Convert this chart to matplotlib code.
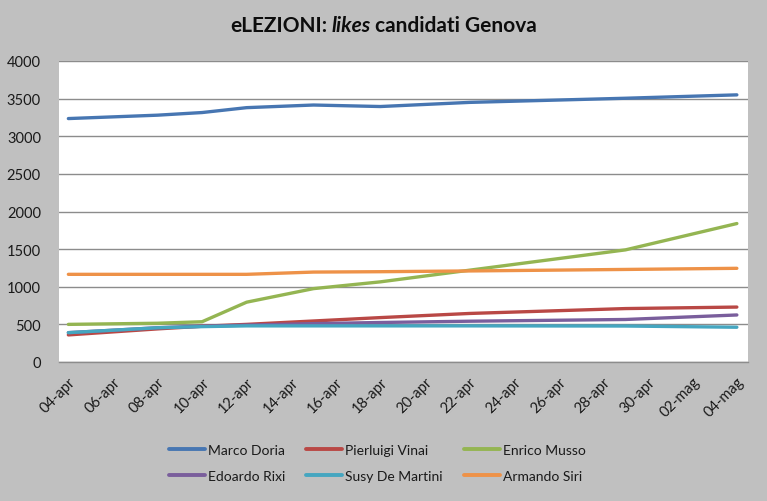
import matplotlib
matplotlib.use("Agg")
import matplotlib.pyplot as plt
import matplotlib.dates as mdates
from matplotlib import font_manager as fm
import numpy as np

# ---------------- data ----------------
dates = ["2012-04-04", "2012-04-08", "2012-04-10", "2012-04-12", "2012-04-15",
         "2012-04-18", "2012-04-22", "2012-04-29", "2012-05-04"]
names = ["Marco Doria", "Pierluigi Vinai", "Enrico Musso",
         "Edoardo Rixi", "Susy De Martini", "Armando Siri"]
doria = [3235, 3280, 3315, 3380, 3415, 3395, 3450, 3505, 3550]
vinai = [360, 440, 475, 500, 545, 590, 645, 710, 730]
musso = [500, 515, 535, 795, 975, 1065, 1220, 1490, 1840]
rixi = [390, 455, 475, 490, 510, 525, 542, 565, 625]
demartini = [390, 455, 470, 480, 480, 480, 480, 478, 462]
siri = [1165, 1165, 1165, 1165, 1195, 1200, 1210, 1230, 1245]
series = [doria, vinai, musso, rixi, demartini, siri]
colors = ["#4776b2", "#b94845", "#94b552", "#7a5e9c", "#45a6c0", "#ee9248"]
tick_labels = ["04-apr", "06-apr", "08-apr", "10-apr", "12-apr", "14-apr", "16-apr",
               "18-apr", "20-apr", "22-apr", "24-apr", "26-apr", "28-apr", "30-apr",
               "02-mag", "04-mag"]
yticks = [0, 500, 1000, 1500, 2000, 2500, 3000, 3500, 4000]

# ---------------- fonts ----------------
avail = {f.name for f in fm.fontManager.ttflist}
fam = "Lato" if "Lato" in avail else "DejaVu Sans"
plt.rcParams["font.family"] = [fam, "DejaVu Sans"]

bg = "#c0c0c0"
fig = plt.figure(figsize=(7.67, 5.02), dpi=100, facecolor=bg)
W, H = 767, 502
ax = fig.add_axes([59 / W, 1 - 363 / H, (748 - 59) / W, (363 - 62) / H])
ax.set_facecolor("white")

x = mdates.date2num(np.array(dates, dtype="datetime64[D]"))
handles = []
for vals, name, c in zip(series, names, colors):
    h, = ax.plot(x, vals, color=c, lw=2.4, solid_capstyle="round",
                 solid_joinstyle="round", label=name)
    handles.append(h)

tick_pos = mdates.date2num(np.arange(np.datetime64("2012-04-04"),
                                     np.datetime64("2012-05-05"), 2))
ax.set_xticks(tick_pos)
ax.set_xticklabels(tick_labels, rotation=45, ha="right", va="top",
                   rotation_mode="anchor", fontsize=10.5, color="#1a1a1a")
ax.set_xlim(x[0] - 0.42, x[-1] + 0.5)
ax.set_ylim(0, 4000)
ax.set_yticks(yticks)
ax.set_yticklabels([str(v) for v in yticks], fontsize=10.5, color="#1a1a1a")
ax.tick_params(axis="both", length=0)
ax.tick_params(axis="y", pad=13)
ax.tick_params(axis="x", pad=9)
ax.grid(axis="y", color="#8c8c8c", lw=1)
ax.set_axisbelow(True)
for s in ["top", "left", "right"]:
    ax.spines[s].set_visible(False)
ax.spines["bottom"].set_color("#8c8c8c")
ax.spines["bottom"].set_linewidth(1)

# ---------------- legend (row-major order) ----------------
order = [0, 3, 1, 4, 2, 5]
leg = fig.legend([handles[i] for i in order], [names[i] for i in order],
                 ncol=3, loc="center", bbox_to_anchor=(0.492, 1 - 464 / H),
                 frameon=False, fontsize=10, handlelength=2.6, handletextpad=0.2,
                 columnspacing=1.5, labelspacing=1.0)
for t in leg.get_texts():
    t.set_color("#1a1a1a")
for l in leg.get_lines():
    l.set_linewidth(2.8)

# ---------------- title (mixed bold / bold-italic) ----------------
parts = [("eLEZIONI:", "normal"), ("likes", "italic"), ("candidati Genova", "normal")]
fig.canvas.draw()
r = fig.canvas.get_renderer()
ty = 1 - 26 / H
txts = []
widths = []
for s, st in parts:
    t = fig.text(0, ty, s, fontsize=15, fontweight="bold", fontstyle=st,
                 ha="left", va="center", color="#0d0d0d")
    txts.append(t)
    widths.append(t.get_window_extent(renderer=r).width)
sp = 4.0
total = sum(widths) + sp * (len(widths) - 1)
xpos = W / 2 - total / 2
for t, w in zip(txts, widths):
    t.set_x(xpos / W)
    xpos += w + sp

fig.savefig("out.png", dpi=100, facecolor=bg)
